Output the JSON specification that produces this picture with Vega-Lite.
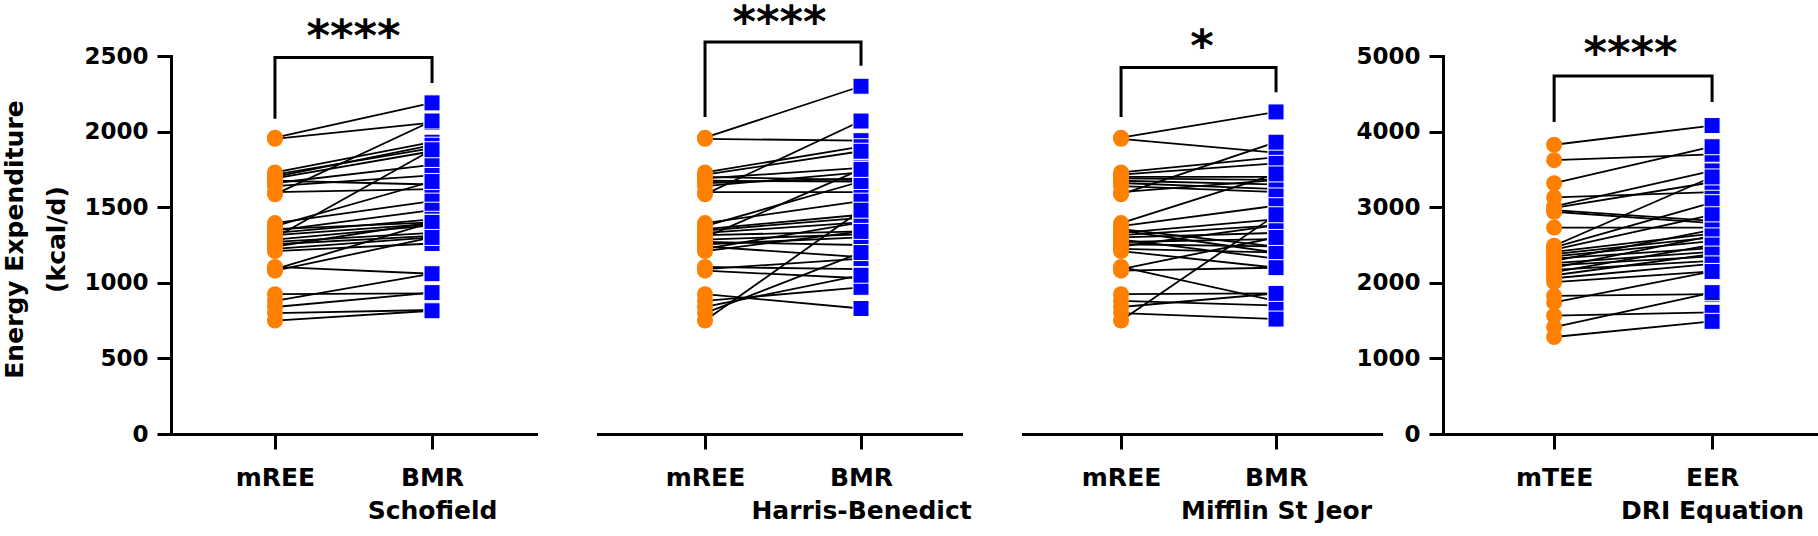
{
  "$schema": "https://vega.github.io/schema/vega-lite/v6.json",
  "background": "white",
  "padding": {"left": 2, "top": 0, "right": 0, "bottom": 0},
  "config": {
    "view": {"stroke": null},
    "font": "DejaVu Sans",
    "axis": {"domainColor": "#000000", "domainWidth": 3, "domainCap": "square", "tickColor": "#000000", "tickWidth": 3, "labelColor": "#000000", "labelFont": "DejaVu Sans", "labelFontWeight": "bold", "titleColor": "#000000", "titleFont": "DejaVu Sans", "titleFontWeight": "bold", "grid": false},
    "axisX": {"tickSize": 15, "labelFontSize": 25, "labelPadding": 16, "labelLineHeight": 33, "labelAngle": 0, "labelLimit": 0, "labelOverlap": false},
    "axisY": {"tickSize": 14, "labelFontSize": 23, "labelPadding": 9, "format": "d"},
    "title": {"font": "DejaVu Sans", "fontSize": 45, "fontWeight": "bold", "color": "#000000", "anchor": "middle", "frame": "group"}
  },
  "datasets": {
    "p1": [
      {"s":1,"g":"mREE","v":1960},{"s":2,"g":"mREE","v":1952},{"s":3,"g":"mREE","v":1730},{"s":4,"g":"mREE","v":1715},{"s":5,"g":"mREE","v":1700},{"s":6,"g":"mREE","v":1690},{"s":7,"g":"mREE","v":1675},{"s":8,"g":"mREE","v":1660},{"s":9,"g":"mREE","v":1640},{"s":10,"g":"mREE","v":1600},{"s":11,"g":"mREE","v":1585},{"s":12,"g":"mREE","v":1395},{"s":13,"g":"mREE","v":1375},{"s":14,"g":"mREE","v":1355},{"s":15,"g":"mREE","v":1345},{"s":16,"g":"mREE","v":1330},{"s":17,"g":"mREE","v":1315},{"s":18,"g":"mREE","v":1300},{"s":19,"g":"mREE","v":1285},{"s":20,"g":"mREE","v":1270},{"s":21,"g":"mREE","v":1255},{"s":22,"g":"mREE","v":1240},{"s":23,"g":"mREE","v":1225},{"s":24,"g":"mREE","v":1210},{"s":25,"g":"mREE","v":1105},{"s":26,"g":"mREE","v":1090},{"s":27,"g":"mREE","v":1080},{"s":28,"g":"mREE","v":925},{"s":29,"g":"mREE","v":880},{"s":30,"g":"mREE","v":840},{"s":31,"g":"mREE","v":800},{"s":32,"g":"mREE","v":750},
      {"s":1,"g":"BMR\nSchofield","v":2190},{"s":2,"g":"BMR\nSchofield","v":2060},{"s":3,"g":"BMR\nSchofield","v":1930},{"s":4,"g":"BMR\nSchofield","v":1890},{"s":5,"g":"BMR\nSchofield","v":1910},{"s":6,"g":"BMR\nSchofield","v":1870},{"s":7,"g":"BMR\nSchofield","v":1650},{"s":8,"g":"BMR\nSchofield","v":1780},{"s":9,"g":"BMR\nSchofield","v":1710},{"s":10,"g":"BMR\nSchofield","v":1620},{"s":11,"g":"BMR\nSchofield","v":2070},{"s":12,"g":"BMR\nSchofield","v":1540},{"s":13,"g":"BMR\nSchofield","v":1670},{"s":14,"g":"BMR\nSchofield","v":1400},{"s":15,"g":"BMR\nSchofield","v":1480},{"s":16,"g":"BMR\nSchofield","v":1420},{"s":17,"g":"BMR\nSchofield","v":1390},{"s":18,"g":"BMR\nSchofield","v":1880},{"s":19,"g":"BMR\nSchofield","v":1380},{"s":20,"g":"BMR\nSchofield","v":1330},{"s":21,"g":"BMR\nSchofield","v":1310},{"s":22,"g":"BMR\nSchofield","v":1400},{"s":23,"g":"BMR\nSchofield","v":1300},{"s":24,"g":"BMR\nSchofield","v":1260},{"s":25,"g":"BMR\nSchofield","v":1060},{"s":26,"g":"BMR\nSchofield","v":1400},{"s":27,"g":"BMR\nSchofield","v":1300},{"s":28,"g":"BMR\nSchofield","v":930},{"s":29,"g":"BMR\nSchofield","v":1060},{"s":30,"g":"BMR\nSchofield","v":935},{"s":31,"g":"BMR\nSchofield","v":820},{"s":32,"g":"BMR\nSchofield","v":815}
    ],
    "p2": [
      {"s":1,"g":"mREE","v":1960},{"s":2,"g":"mREE","v":1952},{"s":3,"g":"mREE","v":1730},{"s":4,"g":"mREE","v":1715},{"s":5,"g":"mREE","v":1700},{"s":6,"g":"mREE","v":1690},{"s":7,"g":"mREE","v":1675},{"s":8,"g":"mREE","v":1660},{"s":9,"g":"mREE","v":1640},{"s":10,"g":"mREE","v":1600},{"s":11,"g":"mREE","v":1585},{"s":12,"g":"mREE","v":1395},{"s":13,"g":"mREE","v":1375},{"s":14,"g":"mREE","v":1355},{"s":15,"g":"mREE","v":1345},{"s":16,"g":"mREE","v":1330},{"s":17,"g":"mREE","v":1315},{"s":18,"g":"mREE","v":1300},{"s":19,"g":"mREE","v":1285},{"s":20,"g":"mREE","v":1270},{"s":21,"g":"mREE","v":1255},{"s":22,"g":"mREE","v":1240},{"s":23,"g":"mREE","v":1225},{"s":24,"g":"mREE","v":1210},{"s":25,"g":"mREE","v":1105},{"s":26,"g":"mREE","v":1090},{"s":27,"g":"mREE","v":1080},{"s":28,"g":"mREE","v":925},{"s":29,"g":"mREE","v":880},{"s":30,"g":"mREE","v":840},{"s":31,"g":"mREE","v":800},{"s":32,"g":"mREE","v":750},
      {"s":1,"g":"BMR\nHarris-Benedict","v":2300},{"s":2,"g":"BMR\nHarris-Benedict","v":1940},{"s":3,"g":"BMR\nHarris-Benedict","v":1900},{"s":4,"g":"BMR\nHarris-Benedict","v":1870},{"s":5,"g":"BMR\nHarris-Benedict","v":1680},{"s":6,"g":"BMR\nHarris-Benedict","v":1760},{"s":7,"g":"BMR\nHarris-Benedict","v":1670},{"s":8,"g":"BMR\nHarris-Benedict","v":1690},{"s":9,"g":"BMR\nHarris-Benedict","v":1730},{"s":10,"g":"BMR\nHarris-Benedict","v":1600},{"s":11,"g":"BMR\nHarris-Benedict","v":2070},{"s":12,"g":"BMR\nHarris-Benedict","v":1540},{"s":13,"g":"BMR\nHarris-Benedict","v":1670},{"s":14,"g":"BMR\nHarris-Benedict","v":1450},{"s":15,"g":"BMR\nHarris-Benedict","v":1430},{"s":16,"g":"BMR\nHarris-Benedict","v":1400},{"s":17,"g":"BMR\nHarris-Benedict","v":1340},{"s":18,"g":"BMR\nHarris-Benedict","v":1750},{"s":19,"g":"BMR\nHarris-Benedict","v":1320},{"s":20,"g":"BMR\nHarris-Benedict","v":1250},{"s":21,"g":"BMR\nHarris-Benedict","v":1300},{"s":22,"g":"BMR\nHarris-Benedict","v":1170},{"s":23,"g":"BMR\nHarris-Benedict","v":1400},{"s":24,"g":"BMR\nHarris-Benedict","v":1340},{"s":25,"g":"BMR\nHarris-Benedict","v":1090},{"s":26,"g":"BMR\nHarris-Benedict","v":1160},{"s":27,"g":"BMR\nHarris-Benedict","v":1030},{"s":28,"g":"BMR\nHarris-Benedict","v":830},{"s":29,"g":"BMR\nHarris-Benedict","v":970},{"s":30,"g":"BMR\nHarris-Benedict","v":1050},{"s":31,"g":"BMR\nHarris-Benedict","v":1200},{"s":32,"g":"BMR\nHarris-Benedict","v":1480}
    ],
    "p3": [
      {"s":1,"g":"mREE","v":1960},{"s":2,"g":"mREE","v":1952},{"s":3,"g":"mREE","v":1730},{"s":4,"g":"mREE","v":1715},{"s":5,"g":"mREE","v":1700},{"s":6,"g":"mREE","v":1690},{"s":7,"g":"mREE","v":1675},{"s":8,"g":"mREE","v":1660},{"s":9,"g":"mREE","v":1640},{"s":10,"g":"mREE","v":1600},{"s":11,"g":"mREE","v":1585},{"s":12,"g":"mREE","v":1395},{"s":13,"g":"mREE","v":1375},{"s":14,"g":"mREE","v":1355},{"s":15,"g":"mREE","v":1345},{"s":16,"g":"mREE","v":1330},{"s":17,"g":"mREE","v":1315},{"s":18,"g":"mREE","v":1300},{"s":19,"g":"mREE","v":1285},{"s":20,"g":"mREE","v":1270},{"s":21,"g":"mREE","v":1255},{"s":22,"g":"mREE","v":1240},{"s":23,"g":"mREE","v":1225},{"s":24,"g":"mREE","v":1210},{"s":25,"g":"mREE","v":1105},{"s":26,"g":"mREE","v":1090},{"s":27,"g":"mREE","v":1080},{"s":28,"g":"mREE","v":925},{"s":29,"g":"mREE","v":880},{"s":30,"g":"mREE","v":840},{"s":31,"g":"mREE","v":800},{"s":32,"g":"mREE","v":750},
      {"s":1,"g":"BMR\nMifflin St Jeor","v":2130},{"s":2,"g":"BMR\nMifflin St Jeor","v":1860},{"s":3,"g":"BMR\nMifflin St Jeor","v":1830},{"s":4,"g":"BMR\nMifflin St Jeor","v":1790},{"s":5,"g":"BMR\nMifflin St Jeor","v":1700},{"s":6,"g":"BMR\nMifflin St Jeor","v":1680},{"s":7,"g":"BMR\nMifflin St Jeor","v":1650},{"s":8,"g":"BMR\nMifflin St Jeor","v":1620},{"s":9,"g":"BMR\nMifflin St Jeor","v":1600},{"s":10,"g":"BMR\nMifflin St Jeor","v":1680},{"s":11,"g":"BMR\nMifflin St Jeor","v":1930},{"s":12,"g":"BMR\nMifflin St Jeor","v":1720},{"s":13,"g":"BMR\nMifflin St Jeor","v":1510},{"s":14,"g":"BMR\nMifflin St Jeor","v":1240},{"s":15,"g":"BMR\nMifflin St Jeor","v":1200},{"s":16,"g":"BMR\nMifflin St Jeor","v":1420},{"s":17,"g":"BMR\nMifflin St Jeor","v":1380},{"s":18,"g":"BMR\nMifflin St Jeor","v":1330},{"s":19,"g":"BMR\nMifflin St Jeor","v":1160},{"s":20,"g":"BMR\nMifflin St Jeor","v":1290},{"s":21,"g":"BMR\nMifflin St Jeor","v":1240},{"s":22,"g":"BMR\nMifflin St Jeor","v":1380},{"s":23,"g":"BMR\nMifflin St Jeor","v":1200},{"s":24,"g":"BMR\nMifflin St Jeor","v":1100},{"s":25,"g":"BMR\nMifflin St Jeor","v":880},{"s":26,"g":"BMR\nMifflin St Jeor","v":1300},{"s":27,"g":"BMR\nMifflin St Jeor","v":1100},{"s":28,"g":"BMR\nMifflin St Jeor","v":930},{"s":29,"g":"BMR\nMifflin St Jeor","v":850},{"s":30,"g":"BMR\nMifflin St Jeor","v":930},{"s":31,"g":"BMR\nMifflin St Jeor","v":760},{"s":32,"g":"BMR\nMifflin St Jeor","v":1450}
    ],
    "p4": [
      {"s":1,"g":"mTEE","v":3826},{"s":2,"g":"mTEE","v":3622},{"s":3,"g":"mTEE","v":3317},{"s":4,"g":"mTEE","v":3130},{"s":5,"g":"mTEE","v":3010},{"s":6,"g":"mTEE","v":2990},{"s":7,"g":"mTEE","v":2960},{"s":8,"g":"mTEE","v":2940},{"s":9,"g":"mTEE","v":2730},{"s":10,"g":"mTEE","v":2490},{"s":11,"g":"mTEE","v":2470},{"s":12,"g":"mTEE","v":2440},{"s":13,"g":"mTEE","v":2410},{"s":14,"g":"mTEE","v":2380},{"s":15,"g":"mTEE","v":2350},{"s":16,"g":"mTEE","v":2320},{"s":17,"g":"mTEE","v":2290},{"s":18,"g":"mTEE","v":2260},{"s":19,"g":"mTEE","v":2230},{"s":20,"g":"mTEE","v":2200},{"s":21,"g":"mTEE","v":2170},{"s":22,"g":"mTEE","v":2140},{"s":23,"g":"mTEE","v":2100},{"s":24,"g":"mTEE","v":2060},{"s":25,"g":"mTEE","v":2010},{"s":26,"g":"mTEE","v":1826},{"s":27,"g":"mTEE","v":1740},{"s":28,"g":"mTEE","v":1565},{"s":29,"g":"mTEE","v":1413},{"s":30,"g":"mTEE","v":1283},
      {"s":1,"g":"EER\nDRI Equation","v":4080},{"s":2,"g":"EER\nDRI Equation","v":3700},{"s":3,"g":"EER\nDRI Equation","v":3800},{"s":4,"g":"EER\nDRI Equation","v":3200},{"s":5,"g":"EER\nDRI Equation","v":3480},{"s":6,"g":"EER\nDRI Equation","v":3330},{"s":7,"g":"EER\nDRI Equation","v":2820},{"s":8,"g":"EER\nDRI Equation","v":2790},{"s":9,"g":"EER\nDRI Equation","v":2730},{"s":10,"g":"EER\nDRI Equation","v":3400},{"s":11,"g":"EER\nDRI Equation","v":3060},{"s":12,"g":"EER\nDRI Equation","v":2900},{"s":13,"g":"EER\nDRI Equation","v":2650},{"s":14,"g":"EER\nDRI Equation","v":2600},{"s":15,"g":"EER\nDRI Equation","v":2550},{"s":16,"g":"EER\nDRI Equation","v":2460},{"s":17,"g":"EER\nDRI Equation","v":2700},{"s":18,"g":"EER\nDRI Equation","v":2410},{"s":19,"g":"EER\nDRI Equation","v":2350},{"s":20,"g":"EER\nDRI Equation","v":2620},{"s":21,"g":"EER\nDRI Equation","v":2290},{"s":22,"g":"EER\nDRI Equation","v":2500},{"s":23,"g":"EER\nDRI Equation","v":2380},{"s":24,"g":"EER\nDRI Equation","v":2250},{"s":25,"g":"EER\nDRI Equation","v":2150},{"s":26,"g":"EER\nDRI Equation","v":1850},{"s":27,"g":"EER\nDRI Equation","v":2150},{"s":28,"g":"EER\nDRI Equation","v":1610},{"s":29,"g":"EER\nDRI Equation","v":1870},{"s":30,"g":"EER\nDRI Equation","v":1490}
    ],
    "b1": [{"g":"mREE","v":2095,"o":1},{"g":"mREE","v":2490,"o":2},{"g":"BMR\nSchofield","v":2490,"o":3},{"g":"BMR\nSchofield","v":2332,"o":4}],
    "b2": [{"g":"mREE","v":2107,"o":1},{"g":"mREE","v":2593,"o":2},{"g":"BMR\nHarris-Benedict","v":2593,"o":3},{"g":"BMR\nHarris-Benedict","v":2446,"o":4}],
    "b3": [{"g":"mREE","v":2107,"o":1},{"g":"mREE","v":2424,"o":2},{"g":"BMR\nMifflin St Jeor","v":2424,"o":3},{"g":"BMR\nMifflin St Jeor","v":2271,"o":4}],
    "b4": [{"g":"mTEE","v":4148,"o":1},{"g":"mTEE","v":4737,"o":2},{"g":"EER\nDRI Equation","v":4737,"o":3},{"g":"EER\nDRI Equation","v":4411,"o":4}]
  },
  "bounds": "flush",
  "spacing": 62,
  "resolve": {"scale": {"x": "independent", "y": "independent"}},
  "hconcat": [
    {
      "width": 365, "height": 378,
      "title": {"text": "****", "offset": -15},
      "encoding": {
        "x": {"field": "g", "type": "nominal", "sort": null, "scale": {"type": "point", "domain": ["mREE", "BMR\nSchofield"], "padding": 0.662, "align": 0.5}, "axis": {"title": null, "labelExpr": "split(datum.label, '\\n')"}},
        "y": {"field": "v", "type": "quantitative", "scale": {"domain": [0, 2500], "nice": false}, "axis": {"values": [0, 500, 1000, 1500, 2000, 2500], "title": ["Energy Expenditure", "(kcal/d)"], "titleFontSize": 25, "titleLineHeight": 42, "titlePadding": 14, "titleY": 183}}
      },
      "layer": [
        {"data": {"name": "p1"}, "mark": {"type": "line", "color": "#000000", "strokeWidth": 1.8}, "encoding": {"detail": {"field": "s", "type": "nominal"}}},
        {"data": {"name": "p1"}, "transform": [{"filter": "datum.g === 'mREE'"}], "mark": {"type": "point", "shape": "circle", "filled": true, "size": 256, "color": "#FF8000", "opacity": 1}},
        {"data": {"name": "p1"}, "transform": [{"filter": "datum.g !== 'mREE'"}], "mark": {"type": "point", "shape": "square", "filled": true, "size": 256, "color": "#0000FF", "stroke": "#FFFFFF", "strokeWidth": 1, "opacity": 1}},
        {"data": {"name": "b1"}, "mark": {"type": "line", "color": "#000000", "strokeWidth": 3, "strokeCap": "square", "strokeJoin": "miter"}, "encoding": {"order": {"field": "o", "type": "quantitative"}}}
      ]
    },
    {
      "width": 363, "height": 378,
      "title": {"text": "****", "offset": -10},
      "encoding": {
        "x": {"field": "g", "type": "nominal", "sort": null, "scale": {"type": "point", "domain": ["mREE", "BMR\nHarris-Benedict"], "padding": 0.6635, "align": 0.517}, "axis": {"title": null, "labelExpr": "split(datum.label, '\\n')"}},
        "y": {"field": "v", "type": "quantitative", "scale": {"domain": [0, 2500], "nice": false}, "axis": null}
      },
      "layer": [
        {"data": {"name": "p2"}, "mark": {"type": "line", "color": "#000000", "strokeWidth": 1.8}, "encoding": {"detail": {"field": "s", "type": "nominal"}}},
        {"data": {"name": "p2"}, "transform": [{"filter": "datum.g === 'mREE'"}], "mark": {"type": "point", "shape": "circle", "filled": true, "size": 256, "color": "#FF8000", "opacity": 1}},
        {"data": {"name": "p2"}, "transform": [{"filter": "datum.g !== 'mREE'"}], "mark": {"type": "point", "shape": "square", "filled": true, "size": 256, "color": "#0000FF", "stroke": "#FFFFFF", "strokeWidth": 1, "opacity": 1}},
        {"data": {"name": "b2"}, "mark": {"type": "line", "color": "#000000", "strokeWidth": 3, "strokeCap": "square", "strokeJoin": "miter"}, "encoding": {"order": {"field": "o", "type": "quantitative"}}}
      ]
    },
    {
      "width": 358, "height": 378,
      "title": {"text": "*", "offset": -14},
      "encoding": {
        "x": {"field": "g", "type": "nominal", "sort": null, "scale": {"type": "point", "domain": ["mREE", "BMR\nMifflin St Jeor"], "padding": 0.655, "align": 0.483}, "axis": {"title": null, "labelExpr": "split(datum.label, '\\n')"}},
        "y": {"field": "v", "type": "quantitative", "scale": {"domain": [0, 2500], "nice": false}, "axis": null}
      },
      "layer": [
        {"data": {"name": "p3"}, "mark": {"type": "line", "color": "#000000", "strokeWidth": 1.8}, "encoding": {"detail": {"field": "s", "type": "nominal"}}},
        {"data": {"name": "p3"}, "transform": [{"filter": "datum.g === 'mREE'"}], "mark": {"type": "point", "shape": "circle", "filled": true, "size": 256, "color": "#FF8000", "opacity": 1}},
        {"data": {"name": "p3"}, "transform": [{"filter": "datum.g !== 'mREE'"}], "mark": {"type": "point", "shape": "square", "filled": true, "size": 256, "color": "#0000FF", "stroke": "#FFFFFF", "strokeWidth": 1, "opacity": 1}},
        {"data": {"name": "b3"}, "mark": {"type": "line", "color": "#000000", "strokeWidth": 3, "strokeCap": "square", "strokeJoin": "miter"}, "encoding": {"order": {"field": "o", "type": "quantitative"}}}
      ]
    },
    {
      "width": 375, "height": 378,
      "title": {"text": "****", "offset": -32},
      "encoding": {
        "x": {"field": "g", "type": "nominal", "sort": null, "scale": {"type": "point", "domain": ["mTEE", "EER\nDRI Equation"], "padding": 0.687, "align": 0.512}, "axis": {"title": null, "labelExpr": "split(datum.label, '\\n')"}},
        "y": {"field": "v", "type": "quantitative", "scale": {"domain": [0, 5000], "nice": false}, "axis": {"values": [0, 1000, 2000, 3000, 4000, 5000], "title": null}}
      },
      "layer": [
        {"data": {"name": "p4"}, "mark": {"type": "line", "color": "#000000", "strokeWidth": 1.8}, "encoding": {"detail": {"field": "s", "type": "nominal"}}},
        {"data": {"name": "p4"}, "transform": [{"filter": "datum.g === 'mTEE'"}], "mark": {"type": "point", "shape": "circle", "filled": true, "size": 256, "color": "#FF8000", "opacity": 1}},
        {"data": {"name": "p4"}, "transform": [{"filter": "datum.g !== 'mTEE'"}], "mark": {"type": "point", "shape": "square", "filled": true, "size": 256, "color": "#0000FF", "stroke": "#FFFFFF", "strokeWidth": 1, "opacity": 1}},
        {"data": {"name": "b4"}, "mark": {"type": "line", "color": "#000000", "strokeWidth": 3, "strokeCap": "square", "strokeJoin": "miter"}, "encoding": {"order": {"field": "o", "type": "quantitative"}}}
      ]
    }
  ]
}
